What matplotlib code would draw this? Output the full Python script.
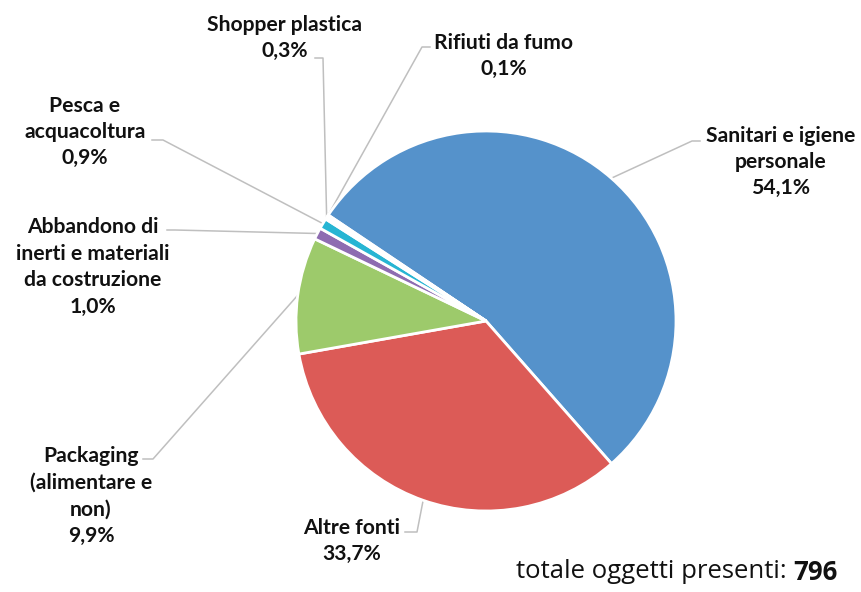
import numpy as np
import matplotlib.pyplot as plt

W, H = 862, 592

# data
categories = ['Sanitari e igiene\npersonale', 'Altre fonti', 'Packaging\n(alimentare e\nnon)',
              'Abbandono di\ninerti e materiali\nda costruzione', 'Pesca e\nacquacoltura',
              'Shopper plastica', 'Rifiuti da fumo']
shares = [54.1, 33.7, 9.9, 1.0, 0.9, 0.3, 0.1]
total_items = 796

colors = ['#5592CB', '#DC5B57', '#9DCA6B', '#8E6CB1', '#27B5D3', '#FFFFFF', '#FFFFFF']

# label layout in picture pixels: text centre, leader start, elbow
label_pos = [(781, 162), (352, 541), (91, 496), (93, 267), (85, 132), (285, 38), (504, 56)]
leader_start = [(700, 141), (405, 532), (143, 459), (167, 230), (152, 140), (315, 58), (430, 47)]
leader_elbow = [(692, 141), (417, 532), (153, 459), (175, 230), (163, 140), (323, 58), (422, 47)]

cx, cy, r = 486, H - 321, 190


def py(y):
    # picture y (top-down) to axes y (bottom-up)
    return H - y


fig = plt.figure(figsize=(W / 100, H / 100), dpi=100)
ax = fig.add_axes([0, 0, 1, 1])

wedges, _ = ax.pie(shares, colors=colors, startangle=146.1, counterclock=False,
                   center=(cx, cy), radius=r, frame=True,
                   wedgeprops=dict(edgecolor='white', linewidth=2))
ax.set_xlim(0, W)
ax.set_ylim(0, H)
ax.set_aspect('equal')
ax.axis('off')

for w, lab, val, (tx, ty), s, e in zip(wedges, categories, shares, label_pos,
                                       leader_start, leader_elbow):
    mid = np.deg2rad((w.theta1 + w.theta2) / 2)
    px, pyy = cx + r * np.cos(mid), cy + r * np.sin(mid)
    ax.plot([s[0], e[0], px], [py(s[1]), py(e[1]), pyy], color='#BFBFBF', lw=1.1, zorder=0)
    txt = lab + '\n' + f'{val:.1f}'.replace('.', ',') + '%'
    ax.text(tx, py(ty), txt, ha='center', va='center', fontsize=15.2,
            fontweight='bold', family='Lato', linespacing=1.4, color='#111111')

t1 = ax.text(516, py(572), 'totale oggetti presenti: ', ha='left', va='center',
             fontsize=18.5, family='Open Sans', color='#111111')
ax.annotate(str(total_items), xy=(1, 0.5), xycoords=t1, ha='left', va='center',
            fontsize=18.5, family='Open Sans', fontweight='bold', color='#111111')

fig.savefig('out.png', dpi=100)
